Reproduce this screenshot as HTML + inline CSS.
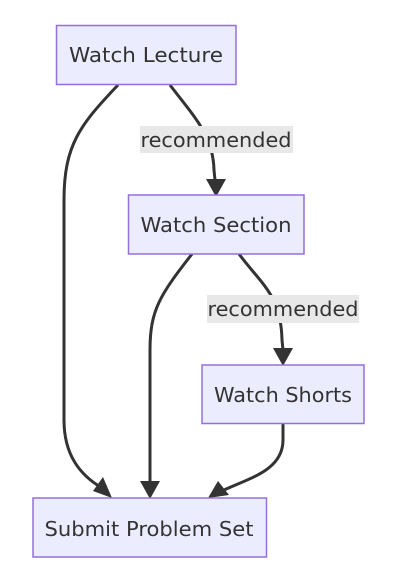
<!DOCTYPE html>
<html><head><style>html,body{margin:0;padding:0;background:#fff;}svg{display:block}</style></head>
<body>
<svg width="402" height="580" viewBox="0 0 402 580" xmlns="http://www.w3.org/2000/svg">
<g fill="none" stroke="#333" stroke-width="3">
<path d="M118 85 C 80 125, 64 145, 64 200 L64 420 C64 455, 80 475, 102 488"/>
<path d="M170 85 C 195 118, 213 135, 214 170 L215 180"/>
<path d="M192 254 C 160 295, 150 310, 150 350 L150 482"/>
<path d="M239 254 C 262 285, 281 295, 282 340 L283 350"/>
<path d="M283 424 L283 440 C283 470, 250 478, 224 490"/>
</g>
<g fill="#333">
<polygon points="112,498 93,491 103,477"/>
<polygon points="216,197 206,179 226,179"/>
<polygon points="150,499 140,481 160,481"/>
<polygon points="283,366 273,348 293,348"/>
<polygon points="208,498 218,481 229,495"/>
</g>
<g fill="#ECECFF" stroke="#9370DB" stroke-width="1.5">
<rect x="56.5" y="25.5" width="179.5" height="59"/>
<rect x="128.5" y="195" width="175.5" height="59"/>
<rect x="202" y="365" width="162" height="58.5"/>
<rect x="33" y="498" width="233.5" height="59"/>
</g>
<g fill="#e8e8e8">
<rect x="140" y="126" width="153" height="27"/>
<rect x="207" y="295" width="152" height="28"/>
</g>
<g font-family="DejaVu Sans, Liberation Sans, sans-serif" font-size="20" fill="#333" text-anchor="middle">
<text x="146" y="62" textLength="154" lengthAdjust="spacingAndGlyphs">Watch Lecture</text>
<text x="216" y="232" textLength="151" lengthAdjust="spacingAndGlyphs">Watch Section</text>
<text x="283" y="402" textLength="138" lengthAdjust="spacingAndGlyphs">Watch Shorts</text>
<text x="149" y="536" textLength="209" lengthAdjust="spacingAndGlyphs">Submit Problem Set</text>
<text x="216" y="147" textLength="151" lengthAdjust="spacingAndGlyphs">recommended</text>
<text x="283" y="316" textLength="151" lengthAdjust="spacingAndGlyphs">recommended</text>
</g>
</svg>
</body></html>
